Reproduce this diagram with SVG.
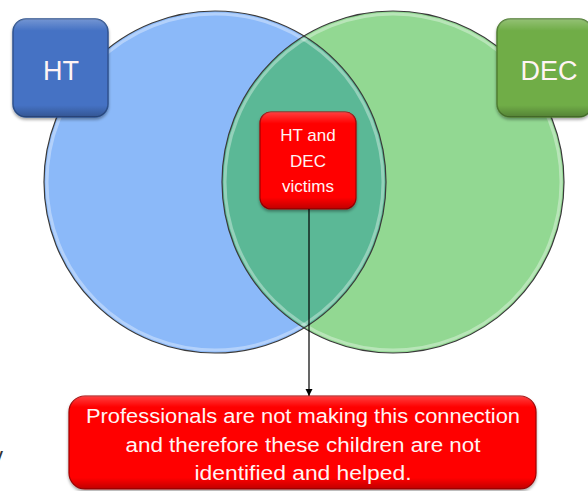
<svg xmlns="http://www.w3.org/2000/svg" width="588" height="491" viewBox="0 0 588 491">
<defs>
<style>
.lbl{font-family:"Liberation Sans",Arial,sans-serif;fill:#fff4f4;text-anchor:middle}
.big{font-size:27px}
.mid{font-size:17px}
.note{font-size:20px}
.ring{fill:none;stroke:#3a3a3a;stroke-width:1.2}
.shine{fill:none;stroke:#ffffff;stroke-opacity:0.35;stroke-width:3}
.conn{stroke:#000;stroke-width:1.2;fill:none}
</style>
<filter id="sh" x="-20%" y="-20%" width="140%" height="140%">
<feDropShadow dx="0" dy="2" stdDeviation="1.5" flood-color="#000" flood-opacity="0.35"/>
</filter>
<linearGradient id="bev" x1="0" y1="0" x2="0" y2="1">
<stop offset="0" stop-color="#fff" stop-opacity="0.25"/>
<stop offset="0.12" stop-color="#fff" stop-opacity="0"/>
<stop offset="0.88" stop-color="#000" stop-opacity="0"/>
<stop offset="1" stop-color="#000" stop-opacity="0.25"/>
</linearGradient>
<marker id="arr" markerWidth="8" markerHeight="8" refX="7" refY="4" orient="auto" markerUnits="userSpaceOnUse">
<path d="M0,0.5 L7,4 L0,7.5 z" fill="#000"/>
</marker>
</defs>
<rect width="588" height="491" fill="#ffffff"/>
<g id="venn">
<circle cx="215" cy="182" r="171" fill="#8bb9f9"/>
<circle cx="393" cy="182" r="171" fill="#92d892"/>
<path d="M304,36 A171,171 0 0,1 304,328 A171,171 0 0,1 304,36 z" fill="#5bb896"/>
<circle cx="215" cy="182" r="168" class="shine"/>
<circle cx="393" cy="182" r="168" class="shine"/>
<circle cx="215" cy="182" r="171" class="ring"/>
<circle cx="393" cy="182" r="171" class="ring"/>
</g>
<g id="ht">
<rect x="13" y="19" width="95" height="98" rx="13" fill="#4472c4" stroke="#2f528f" stroke-width="1.5" filter="url(#sh)"/>
<rect x="13" y="19" width="95" height="98" rx="13" fill="url(#bev)"/>
<text x="61" y="80" class="lbl big">HT</text>
</g>
<g id="dec">
<rect x="497" y="19" width="95" height="98" rx="13" fill="#70ad47" stroke="#507e32" stroke-width="1.5" filter="url(#sh)"/>
<rect x="497" y="19" width="95" height="98" rx="13" fill="url(#bev)"/>
<text x="549" y="80" class="lbl big">DEC</text>
</g>
<g id="victims">
<rect x="260" y="112" width="96" height="97" rx="11" fill="#ff0000" stroke="#a00000" stroke-width="1.2" filter="url(#sh)"/>
<rect x="260" y="112" width="96" height="97" rx="11" fill="url(#bev)"/>
<text class="lbl mid" x="308" y="141">HT and</text>
<text class="lbl mid" x="308" y="167">DEC</text>
<text class="lbl mid" x="308" y="192">victims</text>
</g>
<g id="connectors">
<line x1="309" y1="209" x2="309" y2="396" class="conn" marker-end="url(#arr)"/>
</g>
<g id="note">
<rect x="69" y="396" width="467" height="93" rx="16" fill="#ff0000" stroke="#a00000" stroke-width="1.2" filter="url(#sh)"/>
<rect x="69" y="396" width="467" height="93" rx="16" fill="url(#bev)"/>
<text class="lbl note" x="303" y="423" textLength="434" lengthAdjust="spacingAndGlyphs">Professionals are not making this connection</text>
<text class="lbl note" x="303" y="452" textLength="355" lengthAdjust="spacingAndGlyphs">and therefore these children are not</text>
<text class="lbl note" x="303" y="480" textLength="217" lengthAdjust="spacingAndGlyphs">identified and helped.</text>
</g>
<text x="-8" y="463" font-family="Liberation Sans,Arial,sans-serif" font-size="22" fill="#333">y</text>
</svg>
